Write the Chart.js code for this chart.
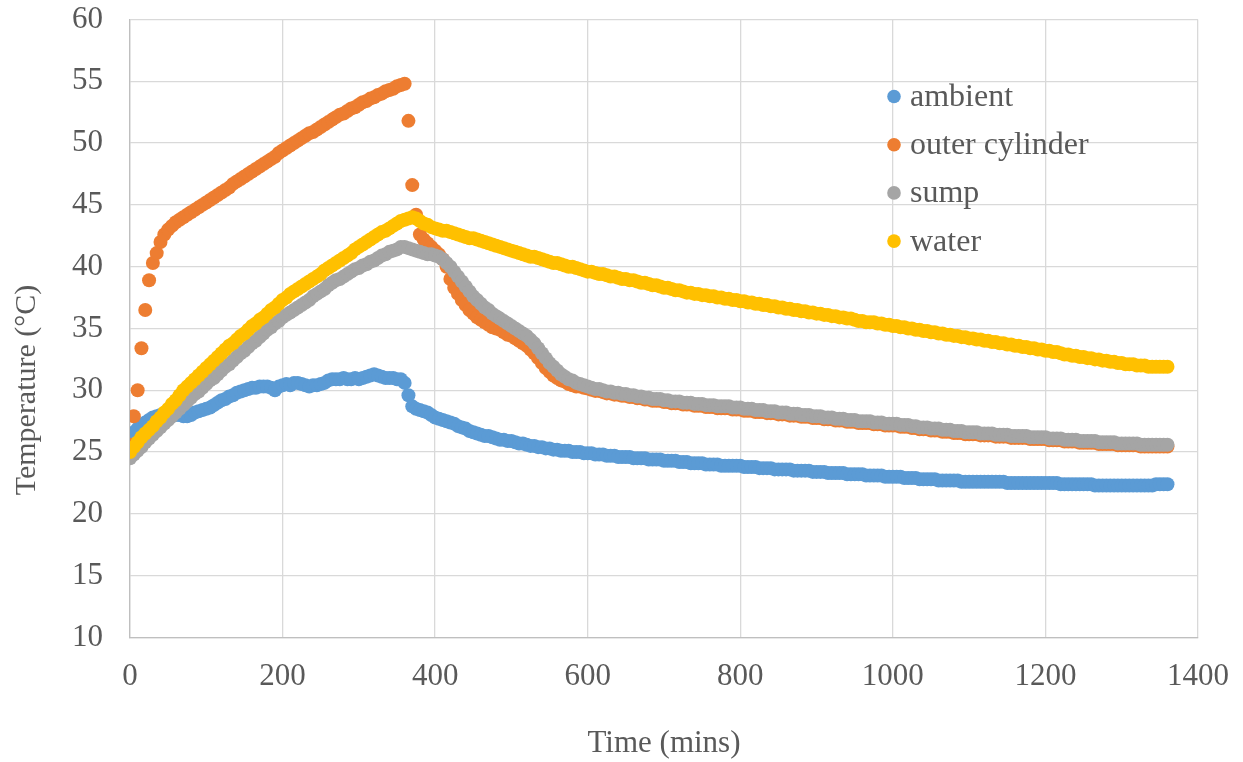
<!DOCTYPE html>
<html>
<head>
<meta charset="utf-8">
<title>Temperature vs time</title>
<script src="https://cdn.jsdelivr.net/npm/chart.js@4/dist/chart.umd.min.js"></script>
<style>
  html, body { margin: 0; padding: 0; background: #ffffff; }
  #wrap { width: 1243px; height: 762px; position: relative; }
</style>
</head>
<body>
<div id="wrap"><canvas id="chart"></canvas></div>
<script>
// Logged every 5 minutes
const sampleMinutes = [
  0,5,10,15,20,25,30,35,40,45,50,55,60,65,70,75,80,85,90,95,
  100,105,110,115,120,125,130,135,140,145,150,155,160,165,170,175,180,185,190,195,
  200,205,210,215,220,225,230,235,240,245,250,255,260,265,270,275,280,285,290,295,
  300,305,310,315,320,325,330,335,340,345,350,355,360,365,370,375,380,385,390,395,
  400,405,410,415,420,425,430,435,440,445,450,455,460,465,470,475,480,485,490,495,
  500,505,510,515,520,525,530,535,540,545,550,555,560,565,570,575,580,585,590,595,
  600,605,610,615,620,625,630,635,640,645,650,655,660,665,670,675,680,685,690,695,
  700,705,710,715,720,725,730,735,740,745,750,755,760,765,770,775,780,785,790,795,
  800,805,810,815,820,825,830,835,840,845,850,855,860,865,870,875,880,885,890,895,
  900,905,910,915,920,925,930,935,940,945,950,955,960,965,970,975,980,985,990,995,
  1000,1005,1010,1015,1020,1025,1030,1035,1040,1045,1050,1055,1060,1065,1070,1075,1080,1085,1090,1095,
  1100,1105,1110,1115,1120,1125,1130,1135,1140,1145,1150,1155,1160,1165,1170,1175,1180,1185,1190,1195,
  1200,1205,1210,1215,1220,1225,1230,1235,1240,1245,1250,1255,1260,1265,1270,1275,1280,1285,1290,1295,
  1300,1305,1310,1315,1320,1325,1330,1335,1340,1345,1350,1355,1360
];

// Temperatures (°C)
const ambient = [
  26.4,26.6,26.9,27.2,27.4,27.6,27.8,27.9,28.0,28.1,28.0,27.9,28.0,28.0,27.9,27.9,28.0,28.2,28.3,28.4,
  28.5,28.6,28.8,29.0,29.2,29.3,29.5,29.6,29.8,29.9,30.0,30.1,30.2,30.2,30.3,30.3,30.3,30.2,30.0,30.3,
  30.4,30.5,30.4,30.6,30.6,30.5,30.4,30.3,30.4,30.4,30.5,30.6,30.8,30.9,30.9,30.9,31.0,30.9,30.9,31.0,
  30.9,31.0,31.1,31.2,31.3,31.2,31.1,31.0,31.0,31.0,30.9,30.9,30.6,29.6,28.7,28.5,28.4,28.3,28.2,28.0,
  27.8,27.7,27.6,27.5,27.4,27.3,27.1,27.0,26.9,26.7,26.6,26.5,26.4,26.3,26.3,26.2,26.1,26.0,26.0,25.9,
  25.9,25.8,25.7,25.7,25.6,25.5,25.5,25.4,25.4,25.3,25.3,25.2,25.2,25.1,25.1,25.1,25.0,25.0,25.0,24.9,
  24.9,24.9,24.8,24.8,24.8,24.7,24.7,24.7,24.6,24.6,24.6,24.6,24.5,24.5,24.5,24.5,24.4,24.4,24.4,24.4,
  24.3,24.3,24.3,24.3,24.2,24.2,24.2,24.1,24.1,24.1,24.1,24.0,24.0,24.0,24.0,23.9,23.9,23.9,23.9,23.9,
  23.9,23.8,23.8,23.8,23.8,23.7,23.7,23.7,23.7,23.6,23.6,23.6,23.6,23.6,23.5,23.5,23.5,23.5,23.5,23.4,
  23.4,23.4,23.4,23.3,23.3,23.3,23.3,23.3,23.2,23.2,23.2,23.2,23.2,23.1,23.1,23.1,23.1,23.1,23.0,23.0,
  23.0,23.0,23.0,22.9,22.9,22.9,22.9,22.8,22.8,22.8,22.8,22.8,22.7,22.7,22.7,22.7,22.7,22.7,22.6,22.6,
  22.6,22.6,22.6,22.6,22.6,22.6,22.6,22.6,22.6,22.6,22.5,22.5,22.5,22.5,22.5,22.5,22.5,22.5,22.5,22.5,
  22.5,22.5,22.5,22.5,22.4,22.4,22.4,22.4,22.4,22.4,22.4,22.4,22.4,22.3,22.3,22.3,22.3,22.3,22.3,22.3,
  22.3,22.3,22.3,22.3,22.3,22.3,22.3,22.3,22.3,22.4,22.4,22.4,22.4
];

const outerCylinder = [
  25.6,27.9,30.0,33.4,36.5,38.9,40.3,41.1,42.0,42.6,43.0,43.3,43.6,43.8,44.0,44.2,44.4,44.6,44.8,45.0,
  45.2,45.4,45.6,45.8,46.0,46.2,46.4,46.7,46.9,47.1,47.3,47.5,47.7,47.9,48.1,48.3,48.5,48.7,48.9,49.2,
  49.4,49.6,49.8,50.0,50.2,50.4,50.6,50.8,50.9,51.1,51.3,51.5,51.7,51.9,52.1,52.3,52.4,52.6,52.8,52.9,
  53.1,53.3,53.4,53.6,53.7,53.9,54.0,54.2,54.3,54.4,54.6,54.7,54.8,51.8,46.6,44.2,42.6,42.2,41.9,41.6,
  41.3,41.0,40.6,40.0,39.0,38.3,37.8,37.3,36.9,36.5,36.2,35.9,35.7,35.5,35.3,35.1,35.0,34.9,34.7,34.5,
  34.4,34.2,34.0,33.8,33.6,33.3,33.0,32.6,32.2,31.8,31.5,31.2,31.0,30.8,30.7,30.5,30.4,30.3,30.3,30.2,
  30.15,30.05,29.95,29.95,29.85,29.75,29.75,29.65,29.65,29.55,29.55,29.45,29.45,29.35,29.35,29.25,29.25,29.15,29.15,29.15,
  29.05,29.05,28.95,28.95,28.95,28.85,28.85,28.85,28.75,28.75,28.75,28.65,28.65,28.65,28.55,28.55,28.55,28.55,28.45,28.45,
  28.45,28.35,28.35,28.35,28.25,28.25,28.25,28.15,28.15,28.15,28.05,28.05,28.05,27.95,27.95,27.95,27.85,27.85,27.85,27.75,
  27.75,27.75,27.65,27.65,27.65,27.55,27.55,27.55,27.45,27.45,27.45,27.35,27.35,27.35,27.35,27.25,27.25,27.25,27.15,27.15,
  27.15,27.15,27.05,27.05,27.05,26.95,26.95,26.85,26.85,26.85,26.75,26.75,26.75,26.65,26.65,26.65,26.55,26.55,26.55,26.45,
  26.45,26.45,26.45,26.35,26.35,26.35,26.35,26.25,26.25,26.25,26.25,26.15,26.15,26.15,26.15,26.15,26.05,26.05,26.05,26.05,
  26.05,25.95,25.95,25.95,25.95,25.85,25.85,25.85,25.85,25.75,25.75,25.75,25.75,25.75,25.65,25.65,25.65,25.65,25.65,25.55,
  25.55,25.55,25.55,25.55,25.55,25.45,25.45,25.45,25.45,25.45,25.45,25.45,25.45
];

const sump = [
  24.5,24.8,25.1,25.4,25.8,26.1,26.4,26.7,27.0,27.3,27.6,27.9,28.2,28.5,28.8,29.1,29.4,29.7,29.9,30.2,
  30.5,30.8,31.0,31.3,31.6,31.9,32.1,32.4,32.7,33.0,33.2,33.5,33.8,34.0,34.3,34.6,34.9,35.1,35.4,35.6,
  35.9,36.1,36.3,36.5,36.7,36.9,37.1,37.3,37.6,37.8,38.0,38.2,38.5,38.7,38.9,39.0,39.2,39.4,39.6,39.8,
  39.9,40.1,40.2,40.4,40.5,40.7,40.9,41.0,41.2,41.3,41.4,41.6,41.6,41.5,41.4,41.3,41.2,41.1,41.0,41.0,
  40.9,40.8,40.6,40.3,40.0,39.6,39.2,38.8,38.4,38.0,37.6,37.3,37.0,36.7,36.5,36.2,36.0,35.8,35.6,35.4,
  35.2,35.0,34.8,34.6,34.4,34.1,33.8,33.4,33.0,32.6,32.2,31.9,31.6,31.3,31.1,30.9,30.8,30.6,30.5,30.4,
  30.3,30.2,30.1,30.1,30.0,29.9,29.9,29.8,29.8,29.7,29.7,29.6,29.6,29.5,29.5,29.4,29.4,29.3,29.3,29.3,
  29.2,29.2,29.1,29.1,29.1,29.0,29.0,29.0,28.9,28.9,28.9,28.8,28.8,28.8,28.7,28.7,28.7,28.7,28.6,28.6,
  28.6,28.5,28.5,28.5,28.4,28.4,28.4,28.3,28.3,28.3,28.2,28.2,28.2,28.1,28.1,28.1,28.0,28.0,28.0,27.9,
  27.9,27.9,27.8,27.8,27.8,27.7,27.7,27.7,27.6,27.6,27.6,27.5,27.5,27.5,27.5,27.4,27.4,27.4,27.3,27.3,
  27.3,27.3,27.2,27.2,27.2,27.1,27.1,27.0,27.0,27.0,26.9,26.9,26.9,26.8,26.8,26.8,26.7,26.7,26.7,26.6,
  26.6,26.6,26.6,26.5,26.5,26.5,26.5,26.4,26.4,26.4,26.4,26.3,26.3,26.3,26.3,26.3,26.2,26.2,26.2,26.2,
  26.2,26.1,26.1,26.1,26.1,26.0,26.0,26.0,26.0,25.9,25.9,25.9,25.9,25.9,25.8,25.8,25.8,25.8,25.8,25.7,
  25.7,25.7,25.7,25.7,25.7,25.6,25.6,25.6,25.6,25.6,25.6,25.6,25.6
];

const water = [
  25.0,25.4,25.8,26.2,26.5,26.8,27.1,27.5,27.8,28.2,28.5,28.9,29.2,29.6,30.0,30.3,30.6,30.9,31.2,31.5,
  31.8,32.1,32.4,32.7,33.0,33.3,33.6,33.8,34.1,34.4,34.6,34.9,35.2,35.4,35.7,35.9,36.2,36.5,36.7,37.0,
  37.3,37.5,37.8,38.0,38.2,38.4,38.6,38.8,39.0,39.2,39.4,39.7,39.9,40.1,40.3,40.5,40.7,40.9,41.1,41.4,
  41.6,41.8,42.0,42.2,42.4,42.6,42.8,42.9,43.1,43.3,43.5,43.7,43.8,43.9,44.0,43.9,43.7,43.5,43.4,43.2,
  43.1,43.0,42.9,42.9,42.8,42.7,42.6,42.5,42.4,42.3,42.3,42.2,42.1,42.0,41.9,41.8,41.7,41.6,41.5,41.4,
  41.3,41.2,41.1,41.0,40.9,40.8,40.8,40.7,40.6,40.5,40.4,40.3,40.3,40.2,40.1,40.0,40.0,39.9,39.8,39.7,
  39.6,39.6,39.5,39.4,39.4,39.3,39.2,39.2,39.1,39.0,39.0,38.9,38.9,38.8,38.7,38.7,38.6,38.5,38.5,38.4,
  38.3,38.3,38.2,38.1,38.1,38.0,37.9,37.9,37.8,37.8,37.7,37.7,37.6,37.6,37.5,37.5,37.4,37.4,37.3,37.3,
  37.2,37.2,37.1,37.1,37.0,37.0,36.9,36.9,36.8,36.8,36.7,36.7,36.6,36.6,36.5,36.5,36.4,36.4,36.3,36.3,
  36.2,36.2,36.1,36.1,36.0,36.0,35.9,35.9,35.8,35.8,35.7,35.6,35.6,35.5,35.5,35.5,35.4,35.4,35.3,35.3,
  35.2,35.2,35.1,35.1,35.0,35.0,34.9,34.9,34.8,34.8,34.7,34.7,34.6,34.6,34.5,34.5,34.4,34.4,34.3,34.3,
  34.2,34.2,34.1,34.1,34.0,34.0,33.9,33.9,33.8,33.8,33.7,33.7,33.6,33.6,33.5,33.5,33.4,33.4,33.3,33.3,
  33.2,33.2,33.1,33.1,33.0,32.9,32.9,32.8,32.8,32.7,32.7,32.6,32.6,32.5,32.5,32.4,32.4,32.3,32.3,32.2,
  32.2,32.1,32.1,32.1,32.0,32.0,32.0,31.9,31.9,31.9,31.9,31.9,31.9
];

const seriesNames = ['ambient', 'outer cylinder', 'sump', 'water'];
const seriesValues = [ambient, outerCylinder, sump, water];
const seriesColors = ['#5B9BD5', '#ED7D31', '#A5A5A5', '#FFC000'];

const xTickValues = [0, 200, 400, 600, 800, 1000, 1200, 1400];
const yTickValues = [10, 15, 20, 25, 30, 35, 40, 45, 50, 55, 60];

const xAxisTitle = 'Time (mins)';
const yAxisTitle = 'Temperature (°C)';

const FONT_FAMILY = '"Liberation Serif", "Times New Roman", serif';
const TICK_SIZE = 31;
const TEXT_COLOR = '#595959';
const GRID_COLOR = '#d9d9d9';

function toPoints(values) {
  return values.map((v, i) => ({ x: sampleMinutes[i], y: v }));
}

// Later series are painted on top of earlier ones
const datasets = seriesValues.map((values, i) => ({
  label: seriesNames[i],
  data: toPoints(values),
  backgroundColor: seriesColors[i],
  borderColor: seriesColors[i],
  borderWidth: 0,
  pointRadius: 7,
  pointHoverRadius: 7,
  order: seriesValues.length - i
}));

// Legend drawn inside the plot area, upper right
const insideLegend = {
  id: 'insideLegend',
  afterDraw(chart) {
    const ctx = chart.ctx;
    const markerX = 894;
    const textX = 910;
    const firstY = 96.5;
    const rowGap = 48.2;
    ctx.save();
    ctx.font = '32px ' + FONT_FAMILY;
    ctx.textAlign = 'left';
    ctx.textBaseline = 'middle';
    chart.data.datasets.forEach((ds, i) => {
      const y = firstY + i * rowGap;
      ctx.fillStyle = ds.backgroundColor;
      ctx.beginPath();
      ctx.arc(markerX, y, 6.8, 0, Math.PI * 2);
      ctx.fill();
      ctx.fillStyle = TEXT_COLOR;
      ctx.fillText(ds.label, textX, y + 1);
    });
    ctx.restore();
  }
};

// Vertical axis title, centred on the canvas height
const sideTitle = {
  id: 'sideTitle',
  afterDraw(chart) {
    const ctx = chart.ctx;
    ctx.save();
    ctx.translate(27, 390);
    ctx.rotate(-Math.PI / 2);
    ctx.font = '30px ' + FONT_FAMILY;
    ctx.fillStyle = TEXT_COLOR;
    ctx.textAlign = 'center';
    ctx.textBaseline = 'middle';
    ctx.fillText(yAxisTitle, 0, 0);
    ctx.restore();
  }
};

const tickFont = { family: FONT_FAMILY, size: TICK_SIZE };

new Chart(document.getElementById('chart'), {
  type: 'scatter',
  data: { datasets },
  plugins: [insideLegend, sideTitle],
  options: {
    responsive: true,
    maintainAspectRatio: false,
    animation: false,
    events: [],
    layout: { padding: { left: 0, right: 45, top: 19.5, bottom: 0 } },
    plugins: {
      legend: { display: false },
      tooltip: { enabled: false },
      title: { display: false }
    },
    scales: {
      x: {
        type: 'linear',
        min: 0,
        max: 1400,
        afterBuildTicks: (scale) => { scale.ticks = xTickValues.map(v => ({ value: v })); },
        afterFit: (scale) => {
          scale.height = 124.5;
          scale.paddingLeft = 0;
          scale.paddingRight = 0;
        },
        grid: { color: GRID_COLOR, lineWidth: 1.3, drawTicks: false },
        border: { color: '#bfbfbf', width: 1.3 },
        ticks: {
          font: tickFont, color: TEXT_COLOR, padding: 21, maxRotation: 0, autoSkip: false,
          callback: (v) => String(v)
        },
        title: {
          display: true,
          text: xAxisTitle,
          font: tickFont,
          color: TEXT_COLOR,
          padding: { top: 0, bottom: 0 }
        }
      },
      y: {
        type: 'linear',
        min: 10,
        max: 60,
        afterBuildTicks: (scale) => { scale.ticks = yTickValues.map(v => ({ value: v })); },
        afterFit: (scale) => {
          scale.width = 130;
          scale.paddingTop = 0;
          scale.paddingBottom = 0;
        },
        grid: { color: GRID_COLOR, lineWidth: 1.3, drawTicks: false },
        border: { color: '#bfbfbf', width: 1.3 },
        ticks: {
          font: tickFont, color: TEXT_COLOR, padding: 27, autoSkip: false,
          callback: (v) => String(v)
        }
      }
    }
  }
});
</script>
</body>
</html>
